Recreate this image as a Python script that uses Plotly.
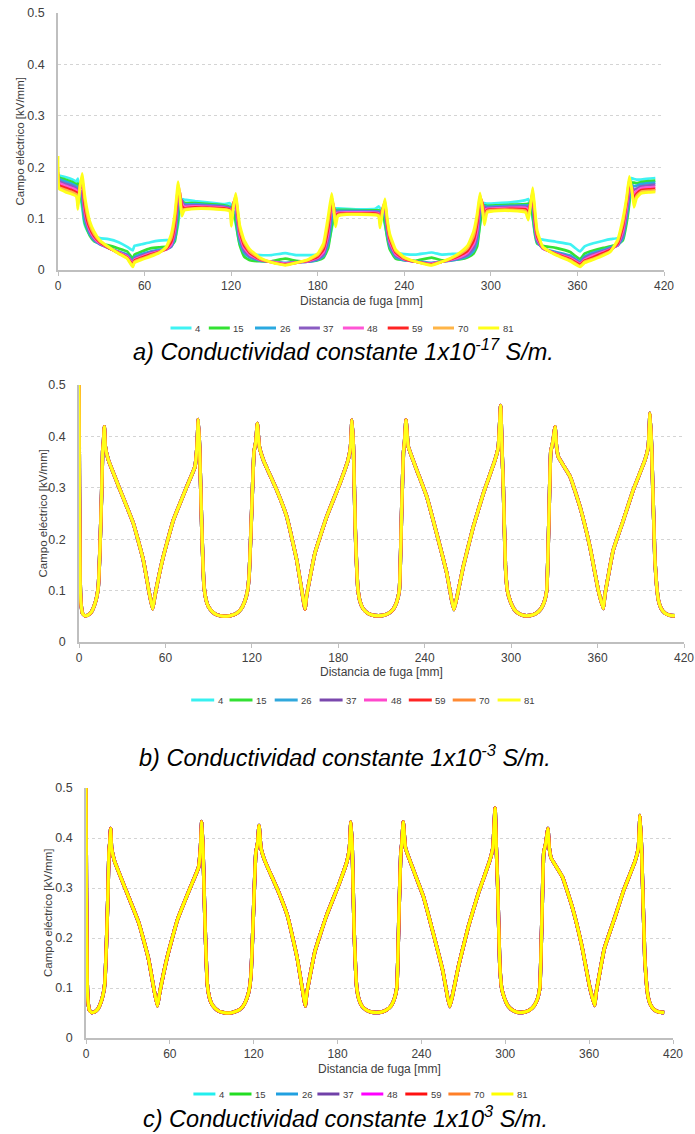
import plotly.graph_objects as go

# ---------------- data ----------------
SERIES = ["4", "15", "26", "37", "48", "59", "70", "81"]
COLORS_A = ["#3ff3f3", "#33e233", "#2aa9e0", "#8a5cc2", "#ff55d5", "#ff2424", "#ffb547", "#ffff1a"]
COLORS_B = ["#38f0f0", "#33e033", "#30a8dc", "#7a48ad", "#ff48cc", "#ff2424", "#ff8a33", "#ffff1a"]
COLORS_C = ["#22eeee", "#22dd22", "#20a0e0", "#7040a8", "#ff00ff", "#ff1010", "#ff7f27", "#ffff00"]

X_TICKS = [0, 60, 120, 180, 240, 300, 360, 420]
Y_TICKS = [0, 0.1, 0.2, 0.3, 0.4, 0.5]

# Panel a) conductividad 1e-17 S/m : distance grid shared by all series
A_X = [0, 0.8, 5, 10, 12.8, 13.8, 15.2, 16.8, 18.3, 20,
       22, 25, 29, 35, 42, 48, 51.8, 53, 58, 64,
       70, 75, 78.5, 81, 83.3, 84.5, 85.8, 87.5, 95, 105,
       115, 119, 120.2, 121.5, 123.2, 124.5, 126, 129, 133, 140,
       148, 157.5, 165, 173, 180, 184, 187.2, 189.7, 191, 192.3,
       194, 200, 210, 220, 222.2, 223.2, 224.8, 226.6, 228.2, 230,
       234, 240, 248, 259, 266, 272, 279, 284, 288, 290.5,
       292.5, 294, 295.5, 297.5, 305, 315, 324, 326, 327.5, 329,
       330.5, 332, 336, 345, 355, 361.8, 365, 371, 378, 383,
       388, 391.5, 394, 396, 397.5, 399.2, 401, 404, 410, 414]

A_4 = [.185, .184, .181, .176, .172, .178, .15, .12, .09, .078,
       .07, .066, .062, .06, .054, .045, .038, .047, .05, .054,
       .057, .058, .058, .062, .09, .12, .138, .137, .134, .131,
       .128, .13, .125, .11, .09, .07, .05, .035, .031, .029,
       .029, .033, .029, .029, .03, .033, .05, .08, .1, .12,
       .12, .119, .118, .119, .124, .12, .11, .088, .065, .045,
       .033, .031, .03, .034, .03, .031, .032, .034, .04, .052,
       .09, .115, .13, .129, .13, .132, .136, .138, .12, .1,
       .075, .063, .059, .055, .05, .036, .046, .052, .057, .06,
       .062, .07, .1, .14, .179, .177, .176, .176, .178, .179]

A_15 = [.185, .18, .176, .171, .167, .168, .15, .13, .095, .08,
        .067, .056, .052, .048, .042, .036, .022, .03, .036, .042,
        .044, .045, .047, .056, .1, .13, .135, .131, .13, .128,
        .126, .123, .12, .11, .095, .07, .048, .026, .019, .017,
        .017, .022, .018, .017, .019, .024, .042, .085, .1, .116,
        .117, .117, .116, .116, .116, .115, .11, .092, .062, .04,
        .022, .019, .018, .024, .019, .019, .021, .025, .032, .046,
        .09, .118, .126, .125, .126, .127, .128, .129, .122, .105,
        .07, .052, .047, .043, .035, .021, .032, .038, .043, .046,
        .05, .058, .09, .13, .17, .17, .169, .171, .173, .174]

A_26 = [.185, .177, .172, .167, .163, .16, .15, .14, .1, .085,
        .07, .058, .05, .043, .036, .03, .016, .025, .031, .036,
        .039, .041, .045, .062, .12, .135, .135, .128, .128, .126,
        .124, .121, .118, .115, .11, .08, .055, .033, .024, .018,
        .016, .014, .015, .016, .02, .027, .05, .1, .11, .114,
        .115, .115, .115, .114, .114, .112, .113, .105, .07, .045,
        .025, .019, .017, .014, .016, .018, .022, .027, .037, .056,
        .105, .124, .125, .123, .124, .125, .126, .126, .126, .12,
        .077, .055, .042, .035, .028, .016, .026, .034, .039, .044,
        .048, .062, .1, .14, .166, .163, .164, .167, .169, .17]

A_37 = [.185, .173, .168, .163, .159, .15, .155, .15, .11, .09,
        .074, .06, .051, .043, .035, .028, .014, .022, .028, .034,
        .037, .04, .047, .07, .135, .14, .135, .126, .126, .125,
        .123, .12, .115, .12, .12, .09, .062, .038, .027, .019,
        .016, .013, .015, .016, .022, .03, .06, .115, .118, .112,
        .113, .113, .113, .113, .112, .108, .116, .115, .078, .05,
        .028, .02, .016, .013, .016, .019, .024, .03, .043, .066,
        .12, .128, .122, .121, .122, .123, .123, .122, .128, .132,
        .085, .058, .042, .033, .025, .014, .023, .031, .037, .042,
        .048, .068, .11, .15, .162, .156, .158, .163, .165, .166]

A_48 = [.185, .169, .164, .159, .155, .14, .16, .16, .12, .095,
        .078, .063, .052, .043, .034, .026, .012, .02, .026, .032,
        .036, .04, .05, .08, .145, .145, .13, .123, .124, .123,
        .121, .118, .11, .125, .13, .1, .068, .043, .03, .02,
        .016, .012, .015, .017, .024, .035, .07, .125, .122, .11,
        .111, .112, .112, .111, .11, .104, .118, .122, .085, .055,
        .031, .021, .016, .012, .016, .02, .026, .034, .05, .078,
        .13, .13, .117, .119, .12, .121, .121, .118, .13, .142,
        .092, .062, .042, .032, .023, .012, .02, .028, .035, .04,
        .05, .076, .12, .16, .16, .148, .153, .159, .161, .162]

A_59 = [.19, .165, .16, .155, .151, .13, .165, .17, .13, .1,
        .082, .066, .054, .043, .033, .024, .01, .018, .024, .03,
        .035, .041, .055, .09, .155, .15, .125, .12, .122, .121,
        .12, .117, .105, .13, .14, .11, .075, .048, .033, .021,
        .015, .011, .014, .018, .026, .04, .08, .135, .125, .105,
        .109, .11, .11, .11, .108, .098, .118, .13, .09, .06,
        .034, .022, .016, .011, .016, .021, .029, .038, .057, .09,
        .14, .132, .11, .117, .118, .119, .118, .112, .13, .15,
        .1, .067, .043, .031, .021, .01, .018, .025, .033, .039,
        .052, .084, .13, .17, .16, .14, .148, .155, .157, .158]

A_70 = [.2, .161, .156, .151, .147, .125, .165, .18, .14, .11,
        .088, .07, .056, .044, .032, .023, .008, .016, .022, .028,
        .034, .043, .062, .1, .165, .15, .115, .118, .12, .12,
        .118, .116, .095, .125, .145, .115, .08, .053, .036, .022,
        .015, .01, .014, .019, .029, .046, .092, .142, .125, .095,
        .107, .109, .109, .108, .107, .09, .115, .135, .095, .065,
        .037, .023, .016, .01, .016, .022, .032, .043, .066, .1,
        .145, .128, .1, .115, .117, .117, .115, .105, .128, .155,
        .11, .072, .044, .03, .019, .008, .016, .022, .03, .037,
        .056, .092, .135, .178, .158, .13, .144, .152, .154, .155]

A_81 = [.222, .158, .152, .147, .143, .118, .16, .188, .15, .12,
        .095, .075, .058, .045, .032, .022, .006, .014, .02, .026,
        .033, .045, .07, .11, .172, .14, .105, .116, .119, .119,
        .117, .115, .085, .12, .149, .12, .087, .058, .04, .024,
        .015, .009, .014, .02, .032, .052, .104, .149, .12, .084,
        .105, .108, .108, .107, .105, .082, .11, .139, .1, .07,
        .04, .025, .016, .009, .016, .023, .035, .048, .075, .11,
        .15, .12, .088, .112, .115, .115, .112, .097, .125, .16,
        .12, .078, .045, .029, .017, .006, .014, .02, .028, .036,
        .06, .1, .14, .182, .16, .122, .14, .149, .151, .152]

# Panels b) and c): all eight series coincide on the same profile
PROFILE_X = [0, 0.3, 0.8, 1.4, 2.4, 4.1, 6, 8.5, 11.1, 12.6,
             13.4, 14.6, 15.7, 16.4, 17.0, 17.6, 18.3, 20.4, 28.5, 37.7,
             44.6, 48.8, 51.1, 52.7, 58.5, 65.5, 74.8, 80.5, 81.9, 82.8,
             83.7, 85.2, 86.8, 88.2, 89.8, 92.5, 95.6, 99, 102.5, 106,
             109.5, 112.5, 115.2, 117, 118.2, 119.9, 121.5, 122.8, 123.8, 125.2,
             128, 137.2, 144.2, 151.1, 154.6, 156.9, 158, 163.8, 172, 181.2,
             186.8, 188.5, 189.5, 190.5, 191.8, 193.7, 195.2, 197.4, 200.5, 204,
             207.8, 211.5, 215, 218.2, 220.6, 222.4, 224, 225.2, 226, 227,
             228.6, 234.4, 241.4, 248.3, 255.3, 258.7, 260.3, 262.2, 266.8, 273.7,
             280.7, 288.8, 291.1, 292.7, 293.6, 294.6, 296, 297.4, 299.6, 302,
             305, 308, 310.8, 314, 317.5, 320.5, 323, 324.7, 326.3, 327.5,
             329, 330.5, 331.5, 332.8, 340.9, 347.8, 354.7, 360.5, 364, 365,
             370.9, 377.9, 384.8, 392.9, 395.2, 396.4, 397.5, 399.8, 401, 402.2,
             404, 406.8, 410, 413.7]
PROFILE_Y = [0.5, 0.3, 0.12, 0.075, 0.056, 0.051, 0.052, 0.058, 0.075, 0.092,
             0.108, 0.185, 0.289, 0.37, 0.39, 0.419, 0.38, 0.354, 0.296, 0.231,
             0.16, 0.095, 0.064, 0.09, 0.166, 0.237, 0.302, 0.341, 0.38, 0.433,
             0.38, 0.224, 0.108, 0.082, 0.069, 0.059, 0.053, 0.0505, 0.05, 0.052,
             0.056, 0.064, 0.08, 0.1, 0.134, 0.257, 0.37, 0.39, 0.425, 0.38,
             0.354, 0.296, 0.244, 0.16, 0.101, 0.064, 0.09, 0.173, 0.244, 0.309,
             0.354, 0.38, 0.432, 0.38, 0.22, 0.101, 0.078, 0.064, 0.056, 0.052,
             0.051, 0.052, 0.056, 0.064, 0.078, 0.101, 0.257, 0.367, 0.39, 0.432,
             0.38, 0.335, 0.283, 0.211, 0.134, 0.082, 0.063, 0.085, 0.147, 0.224,
             0.289, 0.354, 0.38, 0.46, 0.38, 0.3, 0.15, 0.1, 0.078, 0.064,
             0.056, 0.052, 0.051, 0.052, 0.056, 0.064, 0.078, 0.1, 0.25, 0.37,
             0.39, 0.419, 0.38, 0.36, 0.322, 0.263, 0.185, 0.101, 0.065, 0.09,
             0.179, 0.237, 0.296, 0.354, 0.38, 0.445, 0.38, 0.16, 0.11, 0.082,
             0.066, 0.056, 0.052, 0.051]

A_SERIES = [A_4, A_15, A_26, A_37, A_48, A_59, A_70, A_81]

CAPTIONS = ["<i>a) Conductividad constante 1x10<sup>-17</sup> S/m.</i>",
            "<i>b) Conductividad constante 1x10<sup>-3</sup> S/m.</i>",
            "<i>c) Conductividad constante 1x10<sup>3</sup> S/m.</i>"]
Y_TITLE = "Campo eléctrico [kV/mm]"
X_TITLE = "Distancia de fuga [mm]"

# ---------------- layout (pixels) ----------------
W, H = 695, 1134
FONT = "Liberation Sans, Arial, sans-serif"
TXT = "#404040"
AX = "#bfbfbf"

BOXES = [(58, 664, 13, 270), (79, 684, 385, 642), (86, 673, 788, 1038)]
LEGEND_ROW_Y = [328, 700, 1094]
LEGEND_KEY_X = [[170.5, 208.8, 255, 298.9, 342.9, 387.7, 433, 478.2],
                [191.2, 229.5, 274.7, 319.6, 364, 408.8, 452.7, 497.6],
                [193.4, 229.5, 276, 317.4, 361.3, 405.3, 448.4, 491.4]]
LEGEND_KEY_LEN = [21, 23, 22]
CAPTION_POS = [(343, 350), (345, 756), (345, 1117)]
YTITLE_X = [20, 42, 48]
XTITLE_Y = [301, 672, 1069]


def px(v):
    return v / W


def py(v):
    return 1 - v / H


fig = go.Figure()

panels = [
    (A_X, A_SERIES, COLORS_A, [2.7] * 7 + [2.8]),
    (PROFILE_X, [PROFILE_Y] * 8, COLORS_B, [3.5] * 7 + [3.0]),
    (PROFILE_X, [PROFILE_Y] * 8, COLORS_C, [3.5] * 7 + [3.0]),
]

for p, (xs, ys_list, colors, widths) in enumerate(panels):
    suffix = "" if p == 0 else str(p + 1)
    for name, ys, col, w in zip(SERIES, ys_list, colors, widths):
        fig.add_trace(go.Scatter(
            x=xs, y=ys, mode="lines", name=name,
            line=dict(color=col, width=w, shape="spline", smoothing=0.35),
            xaxis="x" + suffix, yaxis="y" + suffix,
            showlegend=False, hoverinfo="skip",
        ))

layout = dict(width=W, height=H, margin=dict(l=0, r=0, t=0, b=0),
              paper_bgcolor="white", plot_bgcolor="white", showlegend=False,
              font=dict(family=FONT, color=TXT), annotations=[], shapes=[])

for p, (l, r, t, b) in enumerate(BOXES):
    suffix = "" if p == 0 else str(p + 1)
    colors = panels[p][2]
    layout["xaxis" + suffix] = dict(
        domain=[px(l), px(r)], anchor="y" + suffix, range=[0, 420],
        tickvals=X_TICKS, ticks="outside", ticklen=4, tickcolor=AX, tickwidth=1,
        showline=True, linecolor=AX, linewidth=1.5, showgrid=False, zeroline=False,
        tickfont=dict(family=FONT, size=12, color=TXT), automargin=False, fixedrange=True)
    layout["yaxis" + suffix] = dict(
        domain=[py(b), py(t)], anchor="x" + suffix, range=[0, 0.5],
        tickvals=Y_TICKS, ticks="", showline=True, linecolor=AX, linewidth=1.5,
        showgrid=True, gridcolor="#d4d4d4", griddash="dot", gridwidth=1, zeroline=False,
        ticklabelstandoff=9, tickfont=dict(family=FONT, size=12.5, color=TXT),
        automargin=False, fixedrange=True)
    # axis titles
    layout["annotations"].append(dict(
        text=Y_TITLE, textangle=-90, x=px(YTITLE_X[p]), y=py((t + b) / 2),
        xref="paper", yref="paper", showarrow=False, xanchor="center", yanchor="middle",
        font=dict(family=FONT, size=11.5, color=TXT)))
    layout["annotations"].append(dict(
        text=X_TITLE, x=px((l + r) / 2), y=py(XTITLE_Y[p]),
        xref="paper", yref="paper", showarrow=False, xanchor="center", yanchor="middle",
        font=dict(family=FONT, size=12, color=TXT)))
    # legend row (key line + label per series)
    ly = py(LEGEND_ROW_Y[p])
    klen = LEGEND_KEY_LEN[p]
    for name, col, kx in zip(SERIES, colors, LEGEND_KEY_X[p]):
        layout["shapes"].append(dict(
            type="line", xref="paper", yref="paper", x0=px(kx), x1=px(kx + klen),
            y0=ly, y1=ly, line=dict(color=col, width=3)))
        layout["annotations"].append(dict(
            text=name, x=px(kx + klen + 1.5), y=ly, xref="paper", yref="paper",
            showarrow=False, xanchor="left", yanchor="middle",
            font=dict(family=FONT, size=9.5, color=TXT)))
    # caption
    cx, cy = CAPTION_POS[p]
    layout["annotations"].append(dict(
        text=CAPTIONS[p], x=px(cx), y=py(cy),
        xref="paper", yref="paper", showarrow=False, xanchor="center", yanchor="middle",
        font=dict(family=FONT, size=23.5, color="black")))

fig.update_layout(**layout)
fig.write_html("out.html", config={"displayModeBar": False},
               post_script="document.body.style.margin='0';")
